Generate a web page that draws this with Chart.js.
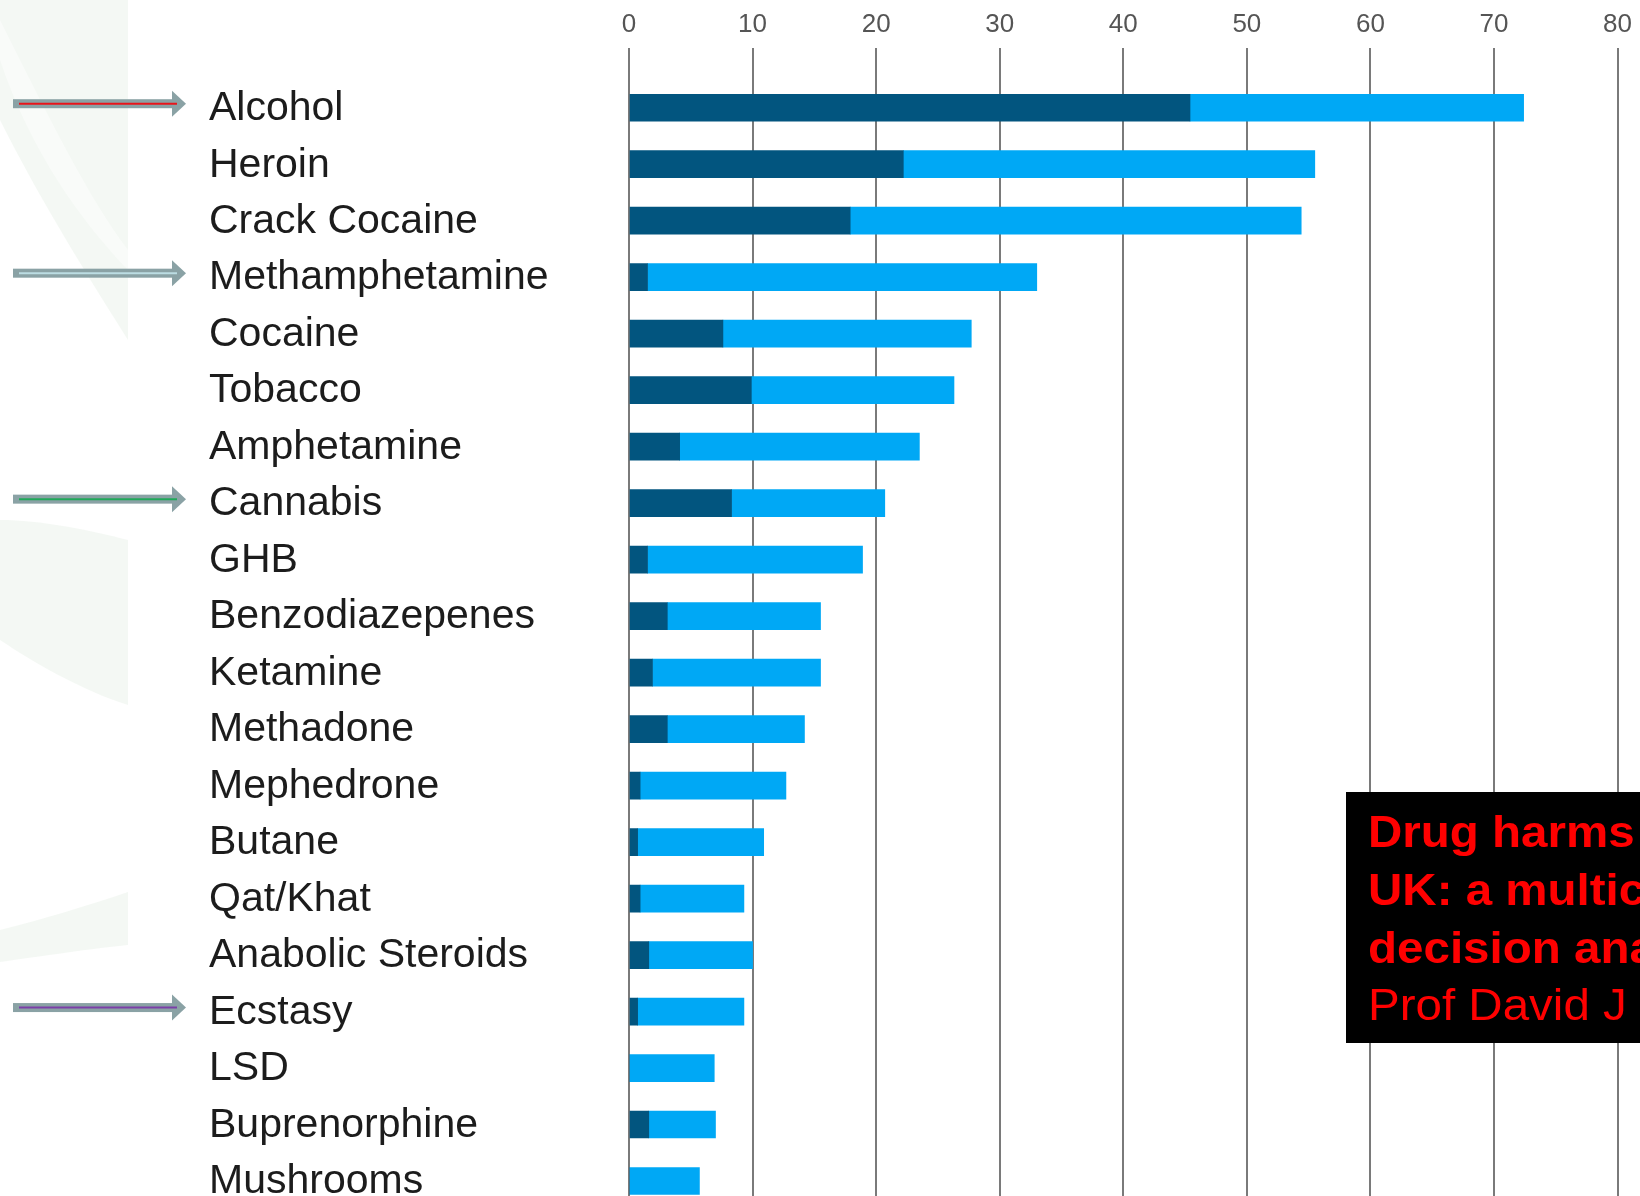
<!DOCTYPE html>
<html>
<head>
<meta charset="utf-8">
<script src="https://cdn.jsdelivr.net/npm/chart.js@4"></script>
<style>
  html, body { margin: 0; padding: 0; background: #ffffff; }
  #wrap { width: 1640px; height: 1196px; position: relative; }
</style>
</head>
<body>
<div id="wrap"><canvas id="c"></canvas></div>
<script>
const categories = ["Alcohol","Heroin","Crack Cocaine","Methamphetamine","Cocaine","Tobacco","Amphetamine","Cannabis","GHB","Benzodiazepenes","Ketamine","Methadone","Mephedrone","Butane","Qat/Khat","Anabolic Steroids","Ecstasy","LSD","Buprenorphine","Mushrooms"];
const harmToOthers = [45.4,22.2,17.9,1.5,7.6,9.9,4.1,8.3,1.5,3.1,1.9,3.1,0.9,0.7,0.9,1.6,0.7,0,1.6,0];
const harmToUsers  = [27.0,33.3,36.5,31.5,20.1,16.4,19.4,12.4,17.4,12.4,13.6,11.1,11.8,10.2,8.4,8.4,8.6,6.9,5.4,5.7];
const tickValues = [0,10,20,30,40,50,60,70,80];
const markedDrugs = ["Alcohol","Methamphetamine","Cannabis","Ecstasy"];
const markColors = ["#e8141b","#bcdde3","#1fa85a","#7a3ea8"];
const boxLines = ["Drug harms in the","UK: a multicriteria","decision analysis","Prof David J Nutt"];

const othersData = harmToOthers.map((v, i) => ({ x: v, y: i }));
const usersData = harmToUsers.map((v, i) => ({ x: v, y: i }));

const overlay = {
  id: 'overlay',
  beforeDraw(chart) {
    const ctx = chart.ctx;
    ctx.save();
    ctx.fillStyle = '#ffffff';
    ctx.fillRect(0, 0, chart.width, chart.height);
    ctx.beginPath();
    ctx.rect(0, 0, 128, chart.height);
    ctx.clip();
    ctx.fillStyle = 'rgba(214,230,214,0.28)';
    ctx.beginPath();
    ctx.moveTo(0, 0); ctx.lineTo(128, 0); ctx.lineTo(128, 340);
    ctx.bezierCurveTo(90, 280, 40, 200, 0, 120); ctx.closePath(); ctx.fill();
    ctx.fillStyle = 'rgba(255,255,255,0.45)';
    ctx.beginPath();
    ctx.moveTo(0, 20); ctx.bezierCurveTo(50, 120, 90, 200, 128, 250);
    ctx.lineTo(128, 270); ctx.bezierCurveTo(80, 220, 30, 150, 0, 60); ctx.closePath(); ctx.fill();
    ctx.fillStyle = 'rgba(214,230,214,0.28)';
    ctx.beginPath();
    ctx.moveTo(0, 520); ctx.bezierCurveTo(40, 520, 90, 530, 128, 540);
    ctx.lineTo(128, 705); ctx.bezierCurveTo(80, 690, 30, 660, 0, 640); ctx.closePath(); ctx.fill();
    ctx.beginPath();
    ctx.moveTo(0, 930); ctx.bezierCurveTo(40, 920, 90, 905, 128, 892);
    ctx.lineTo(128, 945); ctx.bezierCurveTo(80, 950, 30, 958, 0, 962); ctx.closePath(); ctx.fill();
    ctx.restore();
  },
  afterDraw(chart) {
    const ctx = chart.ctx;
    const ys = chart.scales.y;
    ctx.save();
    ctx.fillStyle = '#1c1c1c';
    ctx.font = '41px "Liberation Sans", Arial, sans-serif';
    ctx.textAlign = 'left';
    ctx.textBaseline = 'middle';
    categories.forEach((c, i) => {
      ctx.fillText(c, 209, ys.getPixelForValue(i) + 1);
    });
    markedDrugs.forEach((d, k) => {
      const idx = categories.indexOf(d);
      const ay = ys.getPixelForValue(idx) - 4;
      ctx.fillStyle = '#8aa2a5';
      ctx.fillRect(13, ay - 4.5, 160, 9);
      ctx.beginPath();
      ctx.moveTo(172, ay - 13); ctx.lineTo(186, ay); ctx.lineTo(172, ay + 13); ctx.closePath();
      ctx.fill();
      ctx.strokeStyle = markColors[k];
      ctx.lineWidth = 2;
      ctx.beginPath();
      ctx.moveTo(19, ay); ctx.lineTo(177, ay); ctx.stroke();
    });
    ctx.fillStyle = '#000000';
    ctx.fillRect(1346, 792, 300, 251);
    ctx.fillStyle = '#ff0000';
    ctx.textBaseline = 'alphabetic';
    const baselines = [847, 905, 963, 1020];
    boxLines.forEach((t, i) => {
      ctx.save();
      ctx.translate(1368, baselines[i]);
      ctx.scale(1.08, 1);
      ctx.font = (i < 3 ? 'bold ' : '') + '44px "Liberation Sans", Arial, sans-serif';
      ctx.fillText(t, 0, 0);
      ctx.restore();
    });
    ctx.restore();
  }
};

new Chart(document.getElementById('c'), {
  type: 'bar',
  data: {
    datasets: [
      { label: 'Harm to others', data: othersData, backgroundColor: '#02557f', borderWidth: 0 },
      { label: 'Harm to users', data: usersData, backgroundColor: '#00a8f5', borderWidth: 0 }
    ]
  },
  options: {
    indexAxis: 'y',
    responsive: true,
    maintainAspectRatio: false,
    animation: false,
    events: [],
    layout: { padding: { left: 629, right: 20, top: 0, bottom: 0 } },
    datasets: { bar: { barThickness: 27 } },
    plugins: { legend: { display: false }, tooltip: { enabled: false } },
    scales: {
      x: {
        type: 'linear',
        position: 'top',
        stacked: true,
        min: 0, max: 80,
        afterBuildTicks(scale) { scale.ticks = tickValues.map(v => ({ value: v })); },
        afterFit(scale) { scale.height = 48; },
        ticks: {
          color: '#555555',
          padding: 8,
          font: { family: '"Liberation Sans", Arial, sans-serif', size: 26 },
          callback: v => String(v)
        },
        grid: { color: '#7a7a7a', lineWidth: 2, drawTicks: false },
        border: { display: false }
      },
      y: {
        type: 'linear',
        display: false,
        stacked: true,
        reverse: true,
        offset: false,
        bounds: 'data',
        min: -1.057,
        max: 19.265
      }
    }
  },
  plugins: [overlay]
});
</script>
</body>
</html>
